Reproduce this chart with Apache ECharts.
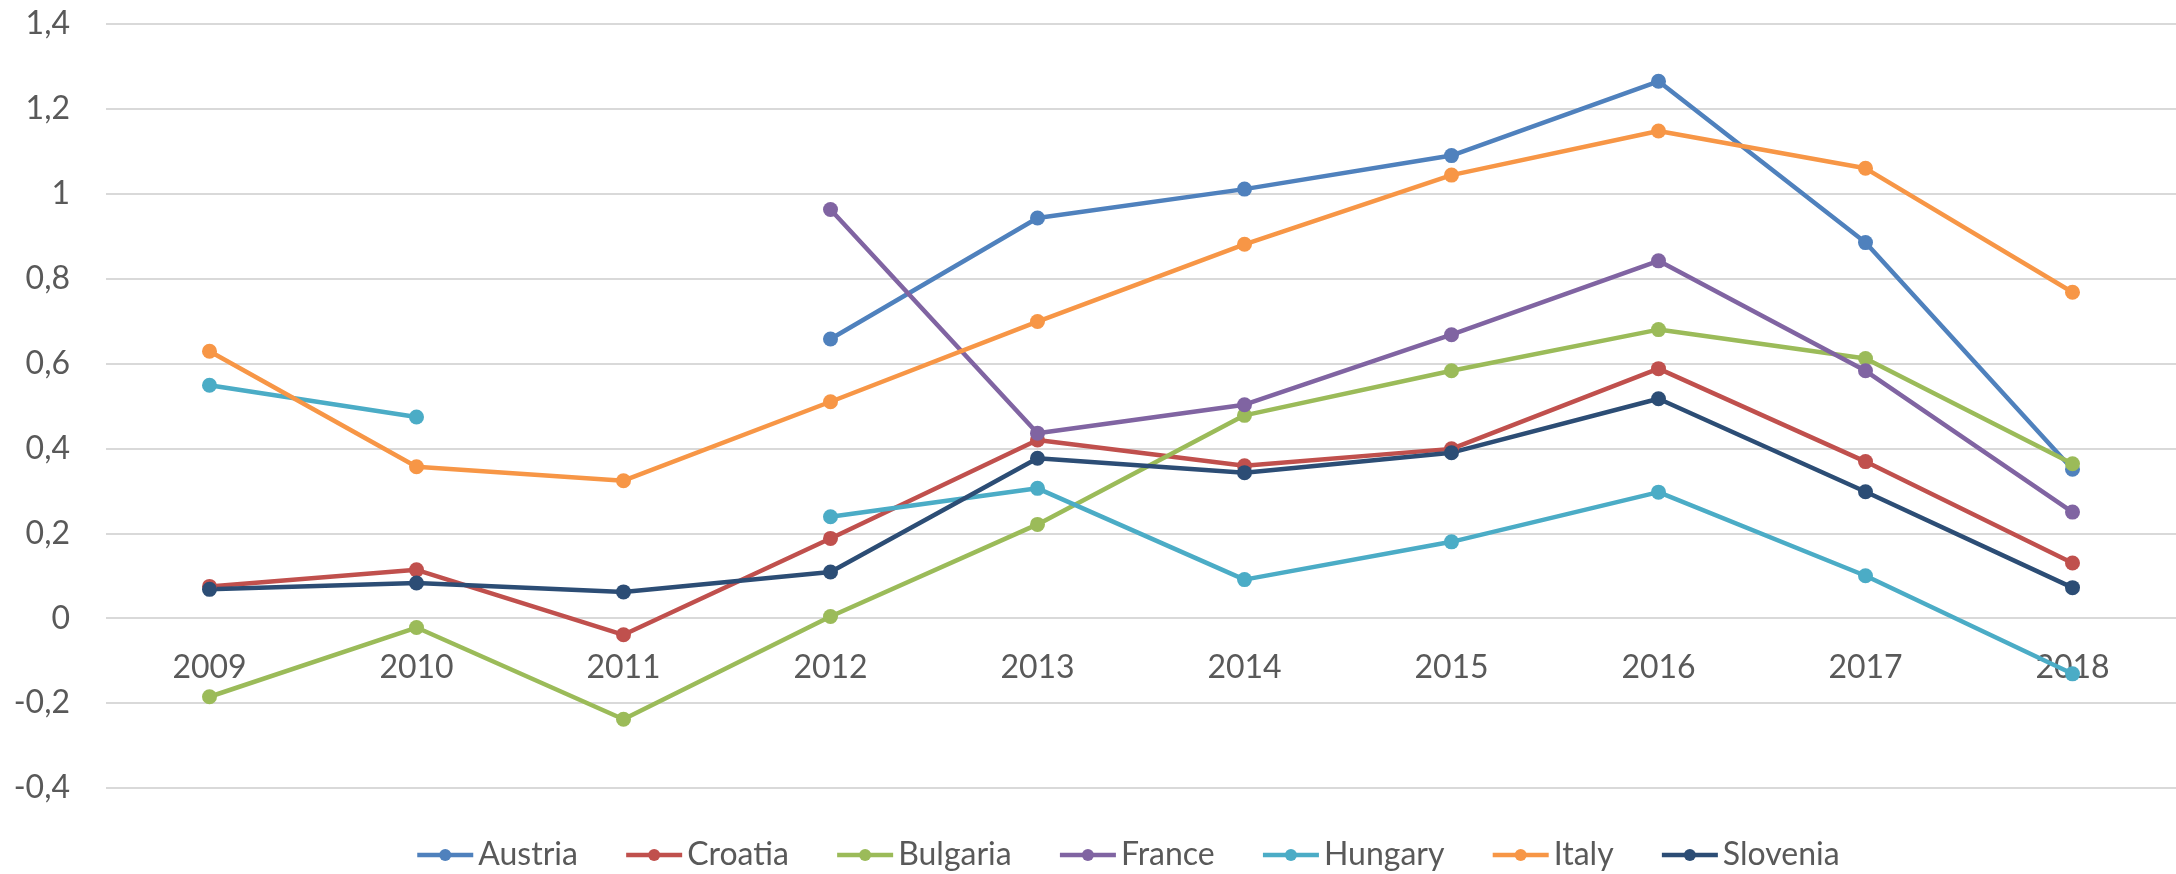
<!DOCTYPE html>
<html><head><meta charset="utf-8">
<script src="https://cdn.jsdelivr.net/npm/echarts@6/dist/echarts.min.js"></script>
<style>html,body{margin:0;padding:0;background:#fff}#c{width:2176px;height:874px}</style>
</head><body><div id="c"></div>
<script>
const years = ['2009','2010','2011','2012','2013','2014','2015','2016','2017','2018'];
const austria  = [null, null, null, 0.658, 0.943, 1.011, 1.090, 1.265, 0.885, 0.351];
const croatia  = [0.075, 0.114, -0.039, 0.188, 0.420, 0.359, 0.399, 0.588, 0.369, 0.130];
const bulgaria = [-0.185, -0.022, -0.238, 0.004, 0.221, 0.478, 0.583, 0.680, 0.612, 0.364];
const france   = [null, null, null, 0.963, 0.436, 0.503, 0.668, 0.842, 0.583, 0.250];
const hungary  = [0.549, 0.474, null, 0.239, 0.306, 0.091, 0.180, 0.297, 0.100, -0.131];
const italy    = [0.629, 0.357, 0.324, 0.510, 0.699, 0.881, 1.044, 1.148, 1.060, 0.768];
const slovenia = [0.068, 0.083, 0.062, 0.109, 0.377, 0.343, 0.390, 0.517, 0.298, 0.072];

const names = ['Austria','Croatia','Bulgaria','France','Hungary','Italy','Slovenia'];
const dataSets = [austria, croatia, bulgaria, france, hungary, italy, slovenia];
const colors = ['#4f81bd','#c0504d','#9bbb59','#8064a2','#4bacc6','#f79646','#2c4d75'];

const chart = echarts.init(document.getElementById('c'));
const FONT = 'Lato';
chart.setOption({
  animation: false,
  color: colors,
  grid: {left: 106, right: 0, top: 24, bottom: 86, containLabel: false},
  legend: {
    top: 834, left: 410,
    itemWidth: 56, itemHeight: 15, itemGap: 46,
    lineStyle: {width: 4.5},
    textStyle: {fontFamily: FONT, fontSize: 32, color: '#595959', padding: [0,0,0,0]},
    data: names
  },
  xAxis: {
    type: 'category', data: years, boundaryGap: true,
    offset: -170,
    axisLine: {show: false, onZero: false},
    axisTick: {show: false},
    axisLabel: {fontFamily: FONT, fontSize: 32, color: '#595959', margin: 34}
  },
  yAxis: {
    type: 'value', min: -0.4, max: 1.4, interval: 0.2,
    axisLine: {show: false}, axisTick: {show: false},
    splitLine: {lineStyle: {color: '#d9d9d9', width: 2}},
    axisLabel: {fontFamily: FONT, fontSize: 32, color: '#595959', margin: 36,
      formatter: v => String(Number(v.toFixed(1))).replace('.', ',')}
  },
  series: names.map((n, i) => ({
    name: n, type: 'line', data: dataSets[i],
    symbol: 'circle', symbolSize: 15, connectNulls: false,
    lineStyle: {width: 4.5, color: colors[i]},
    itemStyle: {color: colors[i]}
  }))
});
</script></body></html>
